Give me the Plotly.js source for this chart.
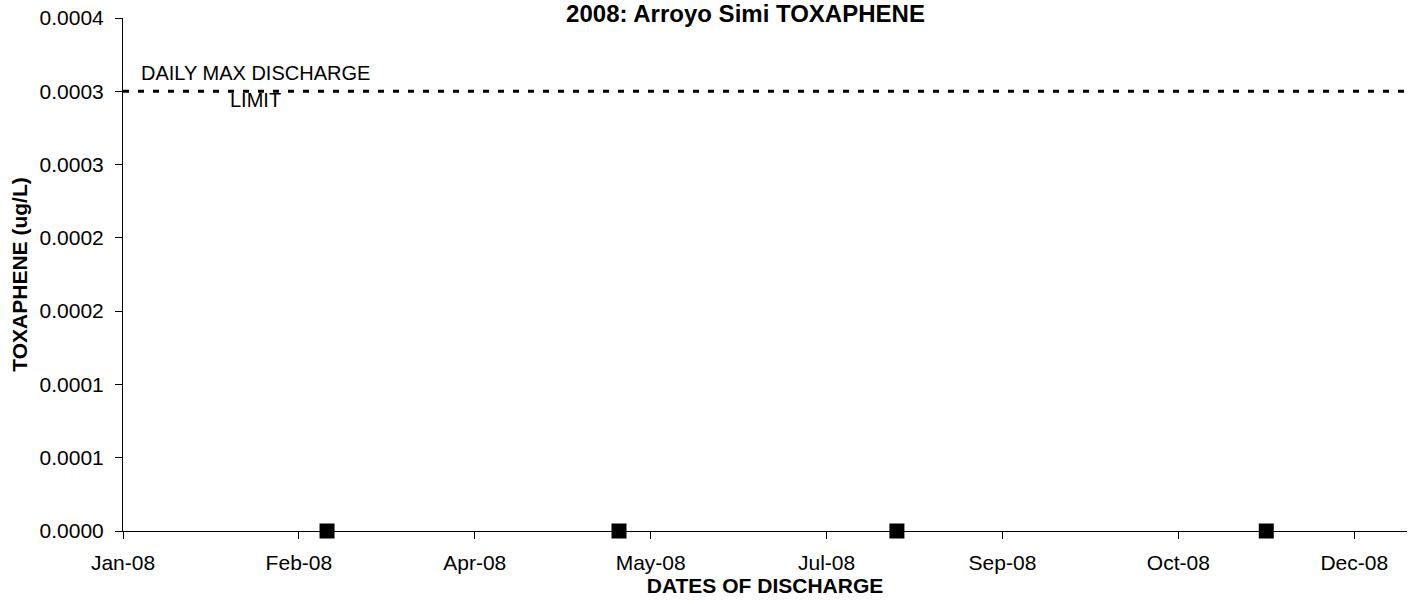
<!DOCTYPE html>
<html>
<head>
<meta charset="utf-8">
<script src="https://cdn.plot.ly/plotly-3.0.1.min.js"></script>
<style>html,body{margin:0;padding:0;background:#fff;}#chart{width:1413px;height:604px;}</style>
</head>
<body>
<div id="chart"></div>
<script>
// Data
const sampleDates = ["2008-02-28", "2008-05-21", "2008-08-08", "2008-11-21"];
const toxapheneValues = [0, 0, 0, 0];
const limitDates = ["2008-01-01", "2008-12-31"];
const limitValues = [0.0003, 0.0003];
const xTickVals = ["2008-01-01", "2008-02-20", "2008-04-10", "2008-05-30", "2008-07-19", "2008-09-07", "2008-10-27", "2008-12-16"];
const xTickText = ["Jan-08", "Feb-08", "Apr-08", "May-08", "Jul-08", "Sep-08", "Oct-08", "Dec-08"];
const yTickVals = [0, 0.00005, 0.0001, 0.00015, 0.0002, 0.00025, 0.0003, 0.00035];
const yTickText = ["0.0000", "0.0001", "0.0001", "0.0002", "0.0002", "0.0003", "0.0003", "0.0004"];

const FONT = "Arial, 'Liberation Sans', sans-serif";
const TICKSIZE = 21;

const traces = [
  {
    x: limitDates, y: limitValues, mode: "lines", type: "scatter",
    line: {color: "#000", width: 3, dash: "6px,9px"},
    hoverinfo: "skip", showlegend: false
  },
  {
    x: sampleDates, y: toxapheneValues, mode: "markers", type: "scatter",
    marker: {symbol: "square", size: 15, color: "#000", line: {width: 0}},
    cliponaxis: false, showlegend: false
  }
];

const layout = {
  width: 1413, height: 604,
  margin: {l: 123, r: 6, t: 18, b: 73},
  paper_bgcolor: "#fff", plot_bgcolor: "#fff",
  font: {family: FONT, size: TICKSIZE, color: "#000"},
  showlegend: false,
  title: {
    text: "<b>2008: Arroyo Simi TOXAPHENE</b>",
    font: {family: FONT, size: 24, color: "#000"},
    x: 745.5 / 1413, xanchor: "center", xref: "container",
    y: 1 - 14 / 604, yanchor: "middle", yref: "container"
  },
  xaxis: {
    type: "date",
    range: ["2008-01-01", "2008-12-31"],
    tickmode: "array", tickvals: xTickVals, ticktext: xTickText,
    ticks: "outside", ticklen: 7, tickcolor: "#000", tickwidth: 1,
    showline: true, linecolor: "#000", linewidth: 1,
    showgrid: false, zeroline: false,
    ticklabelstandoff: 6,
    tickfont: {family: FONT, size: TICKSIZE, color: "#000"},
    title: {text: "<b>DATES OF DISCHARGE</b>", font: {family: FONT, size: 21, color: "#000"}, standoff: 0}
  },
  yaxis: {
    range: [0, 0.00035],
    tickmode: "array", tickvals: yTickVals, ticktext: yTickText,
    ticks: "outside", ticklen: 7, tickcolor: "#000", tickwidth: 1,
    showline: true, linecolor: "#000", linewidth: 1,
    showgrid: false, zeroline: false,
    ticklabelstandoff: 7,
    tickfont: {family: FONT, size: TICKSIZE, color: "#000"},
    title: {text: "<b>TOXAPHENE (ug/L)</b>", font: {family: FONT, size: 21, color: "#000"}, standoff: 6}
  },
  annotations: [
    {xref: "paper", yref: "paper", x: (255 - 123) / (1407 - 123), y: (531 - 73) / 513,
     text: "DAILY MAX DISCHARGE", showarrow: false, xanchor: "center", yanchor: "middle",
     font: {family: FONT, size: 20, color: "#000"}},
    {xref: "paper", yref: "paper", x: (255 - 123) / (1407 - 123), y: (531 - 100) / 513,
     text: "LIMIT", showarrow: false, xanchor: "center", yanchor: "middle",
     font: {family: FONT, size: 20, color: "#000"}}
  ]
};

Plotly.newPlot("chart", traces, layout, {displayModeBar: false, staticPlot: true});
</script>
</body>
</html>
